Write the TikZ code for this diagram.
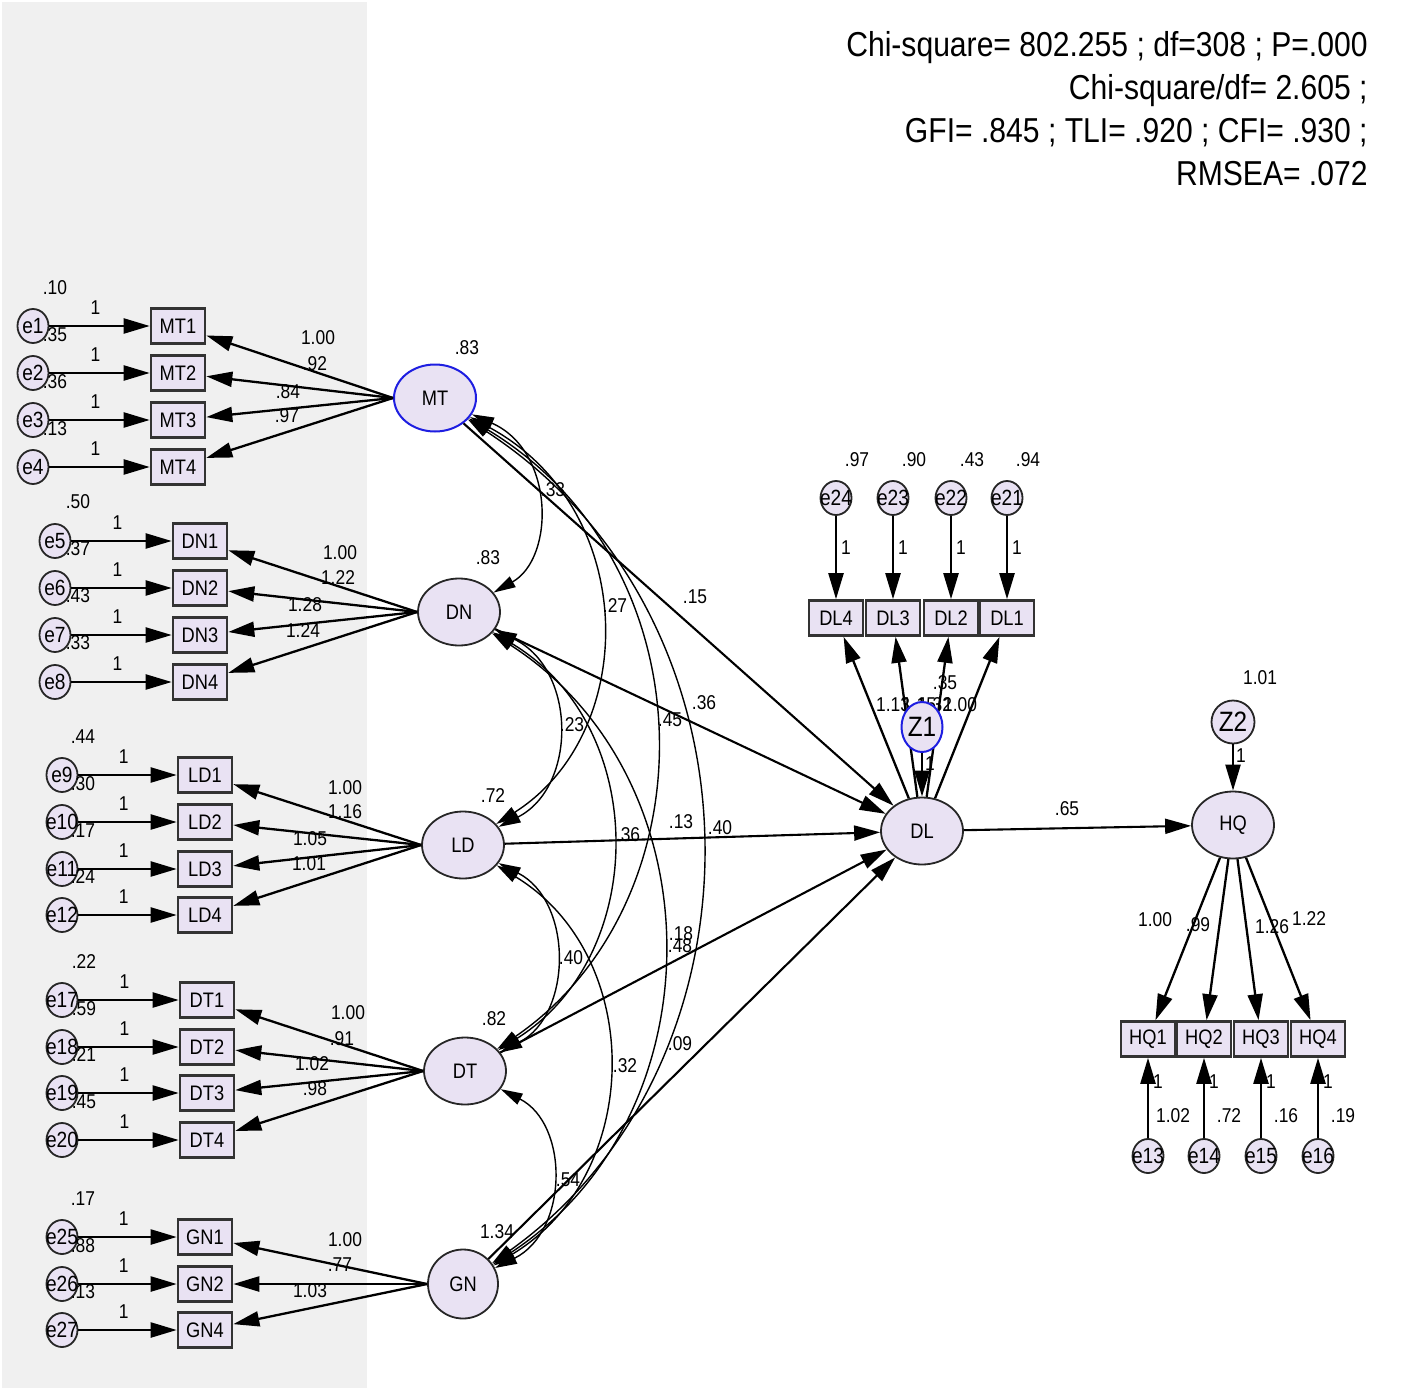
\documentclass[tikz,border=0pt]{standalone}
\usepackage{fontspec}
\setmainfont{Liberation Sans}[FakeStretch=0.87]
\usetikzlibrary{arrows.meta, positioning, shapes.geometric}
\definecolor{lav}{RGB}{233,226,243}
\definecolor{panel}{RGB}{240,240,240}
\definecolor{rim}{RGB}{30,30,225}
\newcommand{\ez}[1]{\makebox[0pt]{#1}}
\tikzset{
>={Triangle[length=13pt,width=7.5pt]},
errc/.style={%
    ellipse, draw=black!85, fill=lav, line width=0.9pt,
    minimum width=15.5pt, minimum height=17pt, inner sep=0pt,
    font=\fontsize{11}{12}\selectfont
},
obs/.style={%
    rectangle, draw=black!80, fill=lav, line width=1.3pt,
    minimum width=27pt, minimum height=17.5pt, inner sep=0pt,
    font=\fontsize{10.5}{12}\selectfont
},
lat/.style={%
    ellipse, draw=black!85, fill=lav, line width=0.9pt,
    minimum width=41pt, minimum height=33.5pt, inner sep=0pt,
    font=\fontsize{10.5}{12}\selectfont
},
dist/.style={lat, font=\fontsize{14}{16}\selectfont},
blue rim/.style={draw=rim, line width=1pt},
lbl/.style={inner sep=0pt, font=\fontsize{10}{12}\selectfont},
one/.style={lbl, above=5pt, pos=0.46},
loadarrow/.style={->, line width=1.15pt},
regarrow/.style={->, line width=1.05pt},
covarc/.style={<->, line width=0.7pt, >={Triangle[length=11pt,width=6pt]}},
}

\begin{document}
\begin{tikzpicture}[x=0.5pt, y=0.5pt]
	\useasboundingbox (0,0) rectangle (1402,-1396);
	\fill[panel] (2,-2) rectangle (367,-1388);

	% latent factors
	\node[lat, blue rim] (MT) at (435,-398) {MT};
	\node[lat] (DN) at (459,-612) {DN};
	\node[lat] (LD) at (463,-845) {LD};
	\node[lat] (DT) at (465,-1071) {DT};
	\node[lat, minimum width=35pt, minimum height=34.5pt] (GN) at (463,-1284) {GN};
	\node[lat] (DL) at (922,-831) {DL};
	\node[lat] (HQ) at (1233,-825) {HQ};

	\node[lbl] (vMT) at (467,-348) {.83};
	\node[lbl] (vDN) at (488,-558) {.83};
	\node[lbl] (vLD) at (493,-796) {.72};
	\node[lbl] (vDT) at (494,-1019) {.82};
	\node[lbl] (vGN) at (497,-1232) {1.34};

	% MT indicators
	\foreach \e/\n/\y/\v/\lx/\ly/\l in {1/1/326/.10/318/338/1.00, 2/2/373/.35/315/364/.92,
	    3/3/420/.36/288/392/.84, 4/4/467/.13/287/416/.97}{
		\node[errc] (e\e) at (33,-\y) {\ez{e\e}};
		\node[obs] (MT\n) at (178,-\y) {MT\n};
		\node[lbl] (ve\e) at (55,-\y+38) {\v};
		\draw[loadarrow] (e\e) -- node[one] (w\e) {1} (MT\n);
		\draw[loadarrow] (MT.west) -- (MT\n);
		\node[lbl] (lMT\n) at (\lx,-\ly) {\l};
	}
	% DN indicators
	\foreach \e/\n/\y/\v/\lx/\ly/\l in {5/1/541/.50/340/553/1.00, 6/2/588/.37/338/578/1.22,
	    7/3/635/.43/305/605/1.28, 8/4/682/.33/303/631/1.24}{
		\node[errc] (e\e) at (55,-\y) {\ez{e\e}};
		\node[obs] (DN\n) at (200,-\y) {DN\n};
		\node[lbl] (ve\e) at (78,-\y+39) {\v};
		\draw[loadarrow] (e\e) -- node[one] (w\e) {1} (DN\n);
		\draw[loadarrow] (DN.west) -- (DN\n);
		\node[lbl] (lDN\n) at (\lx,-\ly) {\l};
	}
	% LD indicators
	\foreach \e/\n/\y/\v/\lx/\ly/\l in {9/1/775/.44/345/788/1.00, 10/2/822/.30/345/812/1.16,
	    11/3/869/.17/310/839/1.05, 12/4/915/.24/309/864/1.01}{
		\node[errc] (e\e) at (62,-\y) {\ez{e\e}};
		\node[obs] (LD\n) at (205,-\y) {LD\n};
		\node[lbl] (ve\e) at (83,-\y+38) {\v};
		\draw[loadarrow] (e\e) -- node[one] (w\e) {1} (LD\n);
		\draw[loadarrow] (LD.west) -- (LD\n);
		\node[lbl] (lLD\n) at (\lx,-\ly) {\l};
	}
	% DT indicators
	\foreach \e/\n/\y/\v/\lx/\ly/\l in {17/1/1000/.22/348/1013/1.00, 18/2/1047/.59/342/1039/.91,
	    19/3/1093/.21/312/1064/1.02, 20/4/1140/.45/315/1089/.98}{
		\node[errc] (e\e) at (62,-\y) {\ez{e\e}};
		\node[obs] (DT\n) at (207,-\y) {DT\n};
		\node[lbl] (ve\e) at (84,-\y+38) {\v};
		\draw[loadarrow] (e\e) -- node[one] (w\e) {1} (DT\n);
		\draw[loadarrow] (DT.west) -- (DT\n);
		\node[lbl] (lDT\n) at (\lx,-\ly) {\l};
	}
	% GN indicators
	\foreach \e/\n/\y/\v/\lx/\ly/\l in {25/1/1237/.17/345/1240/1.00, 26/2/1284/.88/340/1265/.77,
	    27/4/1330/.13/310/1291/1.03}{
		\node[errc] (e\e) at (62,-\y) {\ez{e\e}};
		\node[obs] (GN\n) at (205,-\y) {GN\n};
		\node[lbl] (ve\e) at (83,-\y+38) {\v};
		\draw[loadarrow] (e\e) -- node[one] (w\e) {1} (GN\n);
		\draw[loadarrow] (GN.west) -- (GN\n);
		\node[lbl] (lGN\n) at (\lx,-\ly) {\l};
	}

	% DL indicators
	\foreach \e/\n/\x/\v in {24/4/836/.97, 23/3/893/.90, 22/2/951/.43, 21/1/1007/.94}{
		\node[errc] (e\e) at (\x,-498) {\ez{e\e}};
		\node[obs] (DL\n) at (\x,-618) {DL\n};
		\node[lbl] (ve\e) at (\x+21,-460) {\v};
		\draw[loadarrow] (e\e) -- node[lbl, right=2pt, pos=0.38] (w\e) {1} (DL\n);
		\draw[loadarrow] (DL) -- (DL\n);
	}
	\node[lbl] (lDL4) at (893,-705) {1.13};
	\node[lbl] (lDL3) at (919,-705) {1.15};
	\node[lbl] (lDL2) at (935,-705) {1.32};
	\node[lbl] (lDL1) at (960,-705) {1.00};
	\node[dist, blue rim, minimum width=20.5pt, minimum height=25pt] (Z1) at (922,-727) {Z1};
	\node[lbl] (vZ1) at (945,-683) {.35};
	\draw[loadarrow] (Z1) -- node[lbl, right=1pt, pos=0.25] (wZ1) {1} (DL);

	% HQ indicators
	\node[dist, minimum size=21.5pt] (Z2) at (1233,-722) {Z2};
	\node[lbl] (vZ2) at (1260,-678) {1.01};
	\draw[loadarrow] (Z2) -- node[lbl, right=1pt, pos=0.25] (wZ2) {1} (HQ);
	\foreach \e/\n/\x/\v/\lx/\ly/\l in {13/1/1148/1.02/1155/920/1.00, 14/2/1204/.72/1198/925/.99,
	    15/3/1261/.16/1272/927/1.26, 16/4/1318/.19/1309/919/1.22}{
		\node[obs] (HQ\n) at (\x,-1039) {HQ\n};
		\node[errc] (e\e) at (\x,-1156) {\ez{e\e}};
		\node[lbl] (ve\e) at (\x+25,-1116) {\v};
		\draw[loadarrow] (e\e) -- node[lbl, right=2pt, pos=0.7] (w\e) {1} (HQ\n);
		\draw[loadarrow] (HQ) -- (HQ\n);
		\node[lbl] (lHQ\n) at (\lx,-\ly) {\l};
	}

	% structural paths
	\draw[regarrow] (MT) -- (DL);
	\draw[regarrow] (DN) -- (DL);
	\draw[regarrow] (LD) -- (DL);
	\draw[regarrow] (DT) -- (DL);
	\draw[regarrow] (GN) -- (DL);
	\draw[regarrow] (DL) -- (HQ);
	\node[lbl] (bMT) at (695,-597) {.15};
	\node[lbl] (bDN) at (704,-703) {.36};
	\node[lbl] (bLD) at (681,-822) {.13};
	\node[lbl] (bDT) at (681,-934) {.18};
	\node[lbl] (bGN) at (680,-1044) {.09};
	\node[lbl] (bDL) at (1067,-809) {.65};

	% covariances
	\draw[covarc] (MT) .. controls (555,-451) and (555,-558) .. (DN);
	\draw[covarc] (MT) .. controls (640,-509) and (640,-733) .. (LD);
	\draw[covarc] (MT) .. controls (712,-565) and (712,-902) .. (DT);
	\draw[covarc] (MT) .. controls (774,-619) and (774,-1062) .. (GN);
	\draw[covarc] (DN) .. controls (577,-670) and (577,-787) .. (LD);
	\draw[covarc] (DN) .. controls (650,-726) and (650,-955) .. (DT);
	\draw[covarc] (DN) .. controls (719,-779) and (719,-1116) .. (GN);
	\draw[covarc] (LD) .. controls (573,-901) and (573,-1014) .. (DT);
	\draw[covarc] (LD) .. controls (645,-955) and (645,-1174) .. (GN);
	\draw[covarc] (DT) .. controls (569,-1124) and (569,-1231) .. (GN);
	\node[lbl] (cMTDN) at (553,-490) {.33};
	\node[lbl] (cMTLD) at (615,-606) {.27};
	\node[lbl] (cMTDT) at (670,-720) {.45};
	\node[lbl] (cMTGN) at (720,-828) {.40};
	\node[lbl] (cDNLD) at (572,-725) {.23};
	\node[lbl] (cDNDT) at (628,-835) {.36};
	\node[lbl] (cDNGN) at (680,-946) {.48};
	\node[lbl] (cLDDT) at (571,-958) {.40};
	\node[lbl] (cLDGN) at (625,-1066) {.32};
	\node[lbl] (cDTGN) at (568,-1180) {.54};

	% fit indices
	\node[anchor=north east, align=right, inner sep=0pt,
	    font=\fontsize{17.3}{21.5}\selectfont] (fit) at (1368,-31)
	    {Chi-square= 802.255 ; df=308 ; P=.000\\ Chi-square/df= 2.605 ;\\
	     GFI= .845 ; TLI= .920 ; CFI= .930 ;\\ RMSEA= .072};
\end{tikzpicture}
\end{document}
